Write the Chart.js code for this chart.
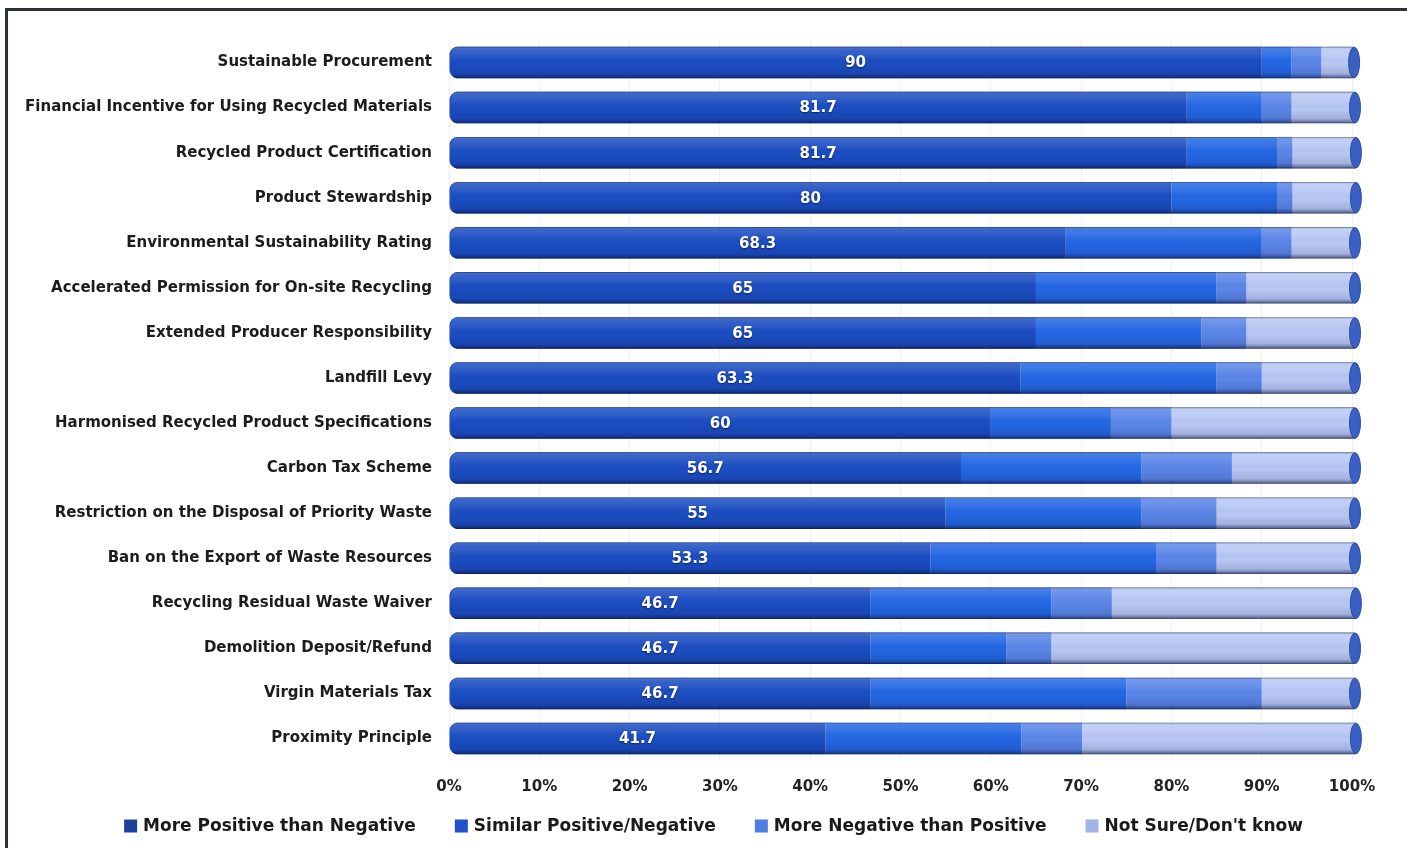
<!DOCTYPE html>
<html>
<head>
<meta charset="utf-8">
<script src="https://cdn.jsdelivr.net/npm/chart.js@4.4.1/dist/chart.umd.min.js"></script>
<style>
  html, body { margin: 0; padding: 0; background: #ffffff; }
  #wrap { position: relative; width: 1407px; height: 848px; overflow: hidden; }
  #frame { position: absolute; left: 5px; top: 8px; right: -10px; bottom: -10px;
           border-top: 3px solid #2c3039; border-left: 3px solid #2c3039; pointer-events: none; }
  canvas { display: block; }
</style>
</head>
<body>
<div id="wrap">
  <canvas id="c" width="1407" height="848"></canvas>
  <div id="frame"></div>
</div>
<script>
// Policy instruments, top to bottom
const categories = [
  'Sustainable Procurement',
  'Financial Incentive for Using Recycled Materials',
  'Recycled Product Certification',
  'Product Stewardship',
  'Environmental Sustainability Rating',
  'Accelerated Permission for On-site Recycling',
  'Extended Producer Responsibility',
  'Landfill Levy',
  'Harmonised Recycled Product Specifications',
  'Carbon Tax Scheme',
  'Restriction on the Disposal of Priority Waste',
  'Ban on the Export of Waste Resources',
  'Recycling Residual Waste Waiver',
  'Demolition Deposit/Refund',
  'Virgin Materials Tax',
  'Proximity Principle'
];

const seriesNames = [
  'More Positive than Negative',
  'Similar Positive/Negative',
  'More Negative than Positive',
  "Not Sure/Don't know"
];

// Share of respondents (%)
const morePositive = [90, 81.7, 81.7, 80, 68.3, 65, 65, 63.3, 60, 56.7, 55, 53.3, 46.7, 46.7, 46.7, 41.7];
const similar      = [3.3, 8.3, 10, 11.7, 21.7, 20, 18.3, 21.7, 13.3, 20, 21.7, 25, 20, 15, 28.3, 21.7];
const moreNegative = [3.3, 3.3, 1.7, 1.7, 3.3, 3.3, 5, 5, 6.7, 10, 8.3, 6.7, 6.7, 5, 15, 6.7];
const notSure      = [3.3, 6.7, 6.7, 6.7, 6.7, 11.7, 11.7, 10, 20, 13.3, 15, 15, 26.7, 33.3, 10, 30];

const xTicks = [0, 10, 20, 30, 40, 50, 60, 70, 80, 90, 100];

const barColors    = ['#1b4dc2', '#2467e4', '#5b86e8', '#b8c8f4'];
const legendColors = ['#1f3f9f', '#2152cc', '#4f7de6', '#a3b3e8'];
const FONT = '"DejaVu Sans", "Open Sans", sans-serif';

// Cylinder shading, end caps and value labels on the first segment
const cylinderPlugin = {
  id: 'cylinder',
  afterDatasetsDraw(chart) {
    const ctx = chart.ctx;
    const first = chart.getDatasetMeta(0).data;
    const last = chart.getDatasetMeta(chart.data.datasets.length - 1).data;
    first.forEach((el0, i) => {
      const elL = last[i];
      const left = el0.base;
      const right = elL.x;
      const y = el0.y;
      const h = el0.height;
      const top = y - h / 2, bottom = y + h / 2;
      const rx = 7, ext = 3;

      ctx.save();
      // bridge to the cap
      ctx.fillStyle = barColors[3];
      ctx.fillRect(right - 0.5, top, ext + 1, h);

      // shading over the whole tube
      ctx.beginPath();
      ctx.moveTo(left + rx, top);
      ctx.lineTo(right + ext, top);
      ctx.lineTo(right + ext, bottom);
      ctx.lineTo(left + rx, bottom);
      ctx.ellipse(left + rx, y, rx, h / 2, 0, Math.PI / 2, Math.PI * 1.5);
      ctx.closePath();
      const g = ctx.createLinearGradient(0, top, 0, bottom);
      g.addColorStop(0.00, 'rgba(10,25,80,0.60)');
      g.addColorStop(0.07, 'rgba(255,255,255,0.14)');
      g.addColorStop(0.28, 'rgba(255,255,255,0.08)');
      g.addColorStop(0.55, 'rgba(0,0,0,0)');
      g.addColorStop(0.84, 'rgba(10,20,70,0.12)');
      g.addColorStop(0.94, 'rgba(10,20,70,0.42)');
      g.addColorStop(1.00, 'rgba(5,15,50,0.75)');
      ctx.fillStyle = g;
      ctx.fill();

      // right end face
      ctx.beginPath();
      ctx.ellipse(right + ext, y, 5.5, h / 2 - 0.5, 0, 0, Math.PI * 2);
      ctx.fillStyle = '#3a60c4';
      ctx.fill();
      ctx.lineWidth = 1;
      ctx.strokeStyle = '#2a4c9e';
      ctx.stroke();

      // value label centred in the first segment
      ctx.font = 'bold 15px ' + FONT;
      ctx.fillStyle = '#ffffff';
      ctx.textAlign = 'center';
      ctx.textBaseline = 'middle';
      ctx.shadowColor = 'rgba(0,0,30,0.55)';
      ctx.shadowBlur = 2;
      ctx.shadowOffsetY = 1;
      ctx.fillText(String(chart.data.datasets[0].data[i]), (left + el0.x) / 2, y + 1);
      ctx.restore();
    });
  }
};

// Legend row along the bottom
const legendRowPlugin = {
  id: 'legendRow',
  afterDraw(chart) {
    const ctx = chart.ctx;
    const box = 13, gapText = 6, gapItem = 39;
    ctx.save();
    ctx.font = 'bold 17px ' + FONT;
    const widths = chart.data.datasets.map(d => box + gapText + ctx.measureText(d.label).width);
    const total = widths.reduce((a, b) => a + b, 0) + gapItem * (widths.length - 1);
    let x = chart.width / 2 + 10 - total / 2;
    const y = 826;
    chart.data.datasets.forEach((d, i) => {
      ctx.fillStyle = legendColors[i];
      ctx.fillRect(x, y - box / 2, box, box);
      ctx.fillStyle = '#1a1a1a';
      ctx.textAlign = 'left';
      ctx.textBaseline = 'middle';
      ctx.fillText(d.label, x + box + gapText, y + 1);
      x += widths[i] + gapItem;
    });
    ctx.restore();
  }
};

const seriesValues = [morePositive, similar, moreNegative, notSure];

new Chart(document.getElementById('c'), {
  type: 'bar',
  data: {
    labels: categories,
    datasets: seriesValues.map((vals, k) => ({
      label: seriesNames[k],
      data: vals,
      backgroundColor: barColors[k],
      borderWidth: 0,
      borderSkipped: false,
      borderRadius: k === 0 ? { topLeft: 8, bottomLeft: 8, topRight: 0, bottomRight: 0 } : 0,
      barPercentage: 0.7,
      categoryPercentage: 1.0
    }))
  },
  options: {
    indexAxis: 'y',
    responsive: false,
    animation: false,
    layout: { padding: { top: 40, right: 55, bottom: 47, left: 0 } },
    plugins: {
      legend: { display: false },
      tooltip: { enabled: false }
    },
    scales: {
      x: {
        stacked: true,
        min: 0,
        max: 100,
        afterBuildTicks(scale) { scale.ticks = xTicks.map(v => ({ value: v })); },
        afterFit(scale) { scale.height = 40; },
        ticks: {
          callback: v => v + '%',
          color: '#222222',
          font: { family: FONT, size: 15, weight: 'bold' },
          padding: 17,
          maxRotation: 0
        },
        grid: { color: '#f0f0f0', drawTicks: false },
        border: { display: false }
      },
      y: {
        stacked: true,
        afterFit(scale) { scale.width = 449; },
        ticks: {
          color: '#1c1c1c',
          font: { family: FONT, size: 15, weight: 'bold' },
          padding: 17
        },
        grid: { display: false, drawTicks: false },
        border: { display: false }
      }
    }
  },
  plugins: [cylinderPlugin, legendRowPlugin]
});
</script>
</body>
</html>
